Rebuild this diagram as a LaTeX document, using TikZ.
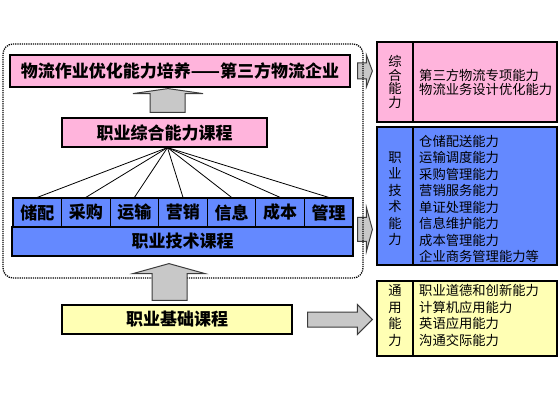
\documentclass[tikz,border=0pt]{standalone}
\usepackage{fontspec}
\setmainfont{Noto Sans CJK SC}
\usetikzlibrary{positioning, calc}
\definecolor{pinkfill}{HTML}{FFB4DC}
\definecolor{bluefill}{HTML}{6489FF}
\definecolor{yellowfill}{HTML}{FFFFB4}
\definecolor{arrowgray}{HTML}{C8C8C8}
\definecolor{arrowline}{HTML}{3C3C3C}

\tikzset{
  coursebox/.style={draw, line width=1.2pt, rectangle, inner sep=0pt, font=\fontsize{17}{20}\selectfont\bfseries},
  smallbox/.style={coursebox, fill=bluefill, minimum width=48.57, minimum height=29},
  panel/.style={draw, line width=1.2pt, rectangle, minimum width=180, inner sep=0pt},
  panelline/.style={line width=1.2pt},
  vlabel/.style={align=center, inner sep=0pt, font=\fontsize{13.3}{16.5}\selectfont},
  plist/.style={align=left, inner sep=0pt, anchor=west, font=\fontsize{13.3}{16.5}\selectfont},
  grayarrow/.style={draw=arrowline, fill=arrowgray, line width=1pt, line join=miter},
  groupbox/.style={draw, dash pattern=on 1.2pt off 1pt, line width=1.3pt, rounded corners=10, inner sep=0pt}
}

\begin{document}
\begin{tikzpicture}[x=1pt, y=1pt]
\useasboundingbox (0,0) rectangle (560,400);

% course chain
\node[coursebox, fill=pinkfill, minimum width=340, minimum height=32] (goal) at (180,329) {物流作业优化能力培养——第三方物流企业};
\node[coursebox, fill=pinkfill, minimum width=205, minimum height=29] (comp) at (164.5,267.5) {职业综合能力课程};
\foreach \t [count=\i] in {储配,采购,运输,营销,信息,成本,管理}
  \node[smallbox] (s\i) at ({13+48.57*(\i-0.5)},187.5) {\t};
\node[coursebox, fill=bluefill, minimum width=341, minimum height=29] (tech) at (182.5,158.5) {职业技术课程};
\node[coursebox, fill=yellowfill, minimum width=230, minimum height=29] (basic) at (177,80.5) {职业基础课程};

\coordinate (hub) at ([xshift=3]comp.south);
\foreach \i in {1,...,7}
  \draw[line width=0.8pt] (hub) -- (s\i.north);

% ability panels
\node[panel, fill=pinkfill, minimum height=80] (pnl1) at (467,318) {};
\draw[panelline] ([xshift=-54]pnl1.north) -- ([xshift=-54]pnl1.south);
\node[vlabel, font=\fontsize{13.3}{13.5}\selectfont] (pnl1l) at ([xshift=-72,yshift=0]pnl1.center) {综\\合\\能\\力};
\node[plist, font=\fontsize{13.3}{14}\selectfont] (pnl1t) at ([xshift=-48,yshift=0]pnl1.center) {第三方物流专项能力\\物流业务设计优化能力};

\node[panel, fill=bluefill, minimum height=138] (pnl2) at (467,204) {};
\draw[panelline] ([xshift=-54]pnl2.north) -- ([xshift=-54]pnl2.south);
\node[vlabel] (pnl2l) at ([xshift=-72,yshift=-3]pnl2.center) {职\\业\\技\\术\\能\\力};
\node[plist] (pnl2t) at ([xshift=-48,yshift=-3]pnl2.center) {仓储配送能力\\运输调度能力\\采购管理能力\\营销服务能力\\单证处理能力\\信息维护能力\\成本管理能力\\企业商务管理能力等};

\node[panel, fill=yellowfill, minimum height=75] (pnl3) at (467,81.5) {};
\draw[panelline] ([xshift=-54]pnl3.north) -- ([xshift=-54]pnl3.south);
\node[vlabel] (pnl3l) at ([xshift=-72,yshift=3]pnl3.center) {通\\用\\能\\力};
\node[plist] (pnl3t) at ([xshift=-48,yshift=3]pnl3.center) {职业道德和创新能力\\计算机应用能力\\英语应用能力\\沟通交际能力};

% arrows to the panels
\draw[grayarrow] let \p1=(goal.east), \p2=(pnl1.west) in
  (\x1+7pt,\y1+8pt) -- (\x2-10pt,\y1+8pt) -- (\x2-10pt,\y1+16pt) -- (\x2-4pt,\y1)
  -- (\x2-10pt,\y1-16pt) -- (\x2-10pt,\y1-8pt) -- (\x1+7pt,\y1-8pt) -- cycle;
\draw[grayarrow] let \p1=(tech.north east), \p2=(pnl2.west) in
  (\x1+4pt,\y1+9pt) -- (\x2-10pt,\y1+9pt) -- (\x2-10pt,\y1+19pt) -- (\x2-4pt,\y1-3pt)
  -- (\x2-10pt,\y1-25pt) -- (\x2-10pt,\y1-15pt) -- (\x1+4pt,\y1-15pt) -- cycle;
\draw[grayarrow] let \p1=(basic.east), \p2=(pnl3.west) in
  (\x1+15pt,\y1+7.5pt) -- (\x2-19pt,\y1+7.5pt) -- (\x2-19pt,\y1+15pt) -- (\x2-4pt,\y1)
  -- (\x2-19pt,\y1-15pt) -- (\x2-19pt,\y1-7.5pt) -- (\x1+15pt,\y1-7.5pt) -- cycle;

% group frame
\node[groupbox, minimum width=360, minimum height=234] (grp) at (183,239) {};

% up arrows
\draw[grayarrow] let \p1=(comp.north), \p2=(goal.south) in
  (150,\y1+5pt) -- (150,\y2-6pt) -- (133,\y2-6pt) -- (168,\y2-1pt)
  -- (203,\y2-6pt) -- (185,\y2-6pt) -- (185,\y1+5pt) -- cycle;
\draw[grayarrow] let \p1=(basic.north), \p2=(tech.south) in
  (152,\y1+4pt) -- (152,\y2-17pt) -- (133,\y2-17pt) -- (169,\y2-7pt)
  -- (205,\y2-17pt) -- (187,\y2-17pt) -- (187,\y1+4pt) -- cycle;
\end{tikzpicture}
\end{document}
